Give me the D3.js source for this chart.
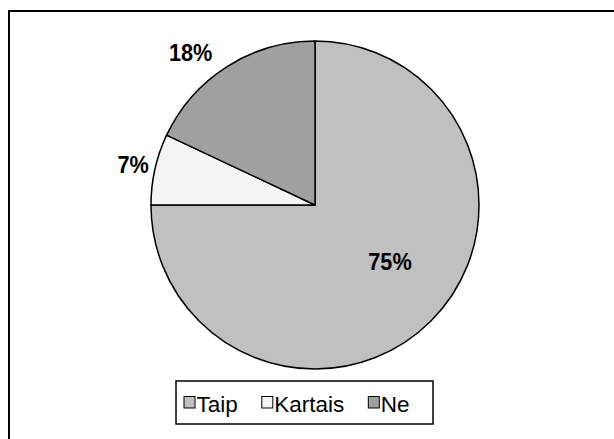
<!DOCTYPE html>
<html>
<head>
<meta charset="utf-8">
<script src="https://cdn.jsdelivr.net/npm/d3@7"></script>
<style>
  body { margin: 0; background: #fff; }
  svg { display: block; }
</style>
</head>
<body>
<svg id="chart" width="614" height="439"></svg>
<script>
// answers and their share (percent)
const categories = ["Taip", "Kartais", "Ne"];
const values = [75, 7, 18];
const colours = ["#c0c0c0", "#f4f4f4", "#a0a0a0"];

const svg = d3.select("#chart");
const cx = 315, cy = 205, r = 164;

// outer frame (runs off the bottom and right edge)
svg.append("rect")
        .attr("x", 9)
        .attr("y", 11)
        .attr("width", 700)
        .attr("height", 600)
        .attr("fill", "none")
        .attr("stroke", "#000")
        .attr("stroke-width", 2);

const pie = d3.pie().sort(null).value(d => d)(values);
const arc = d3.arc().innerRadius(0).outerRadius(r);

const g = svg.append("g").attr("transform", `translate(${cx},${cy})`);

g.selectAll("path.slice")
        .data(pie)
        .join("path")
        .attr("class", "slice")
        .attr("d", arc)
        .attr("fill", (d, i) => colours[i])
        .attr("stroke", "#000")
        .attr("stroke-width", 1.5)
        .attr("stroke-linejoin", "round");

// labels: inside for the big slice, outside for the small ones
const labelRadius = [0.5 * r, 1.13 * r, 1.13 * r];
const labelShift = [[17, -2], [-1, 0], [-25, 4]];

g.selectAll("g.lbl")
        .data(pie)
        .join("g")
        .attr("class", "lbl")
        .attr("transform", (d, i) => {
                const a = (d.startAngle + d.endAngle) / 2;
                const x = Math.sin(a) * labelRadius[i] + labelShift[i][0];
                const y = -Math.cos(a) * labelRadius[i] + labelShift[i][1];
                return `translate(${x},${y}) scale(1,1.13)`;
        })
        .append("text")
        .attr("text-anchor", "middle")
        .attr("y", "0.36em")
        .attr("font-family", "Liberation Sans, Arial, sans-serif")
        .attr("font-weight", "bold")
        .attr("font-size", "21.7px")
        .attr("fill", "#000")
        .text(d => d.data + "%");

// legend
const legend = svg.append("g");
legend.append("rect")
        .attr("x", 176)
        .attr("y", 381)
        .attr("width", 257)
        .attr("height", 43)
        .attr("fill", "#fff")
        .attr("stroke", "#000")
        .attr("stroke-width", 1.5);

let lx = 184;
categories.forEach((c, i) => {
        legend.append("rect")
                .attr("x", lx)
                .attr("y", 396.5)
                .attr("width", 11)
                .attr("height", 11.5)
                .attr("fill", colours[i])
                .attr("stroke", "#000")
                .attr("stroke-width", 1);
        const t = legend.append("text")
                .attr("x", lx + 12.5)
                .attr("y", 411.5)
                .attr("font-family", "Liberation Sans, Arial, sans-serif")
                .attr("font-size", "22.5px")
                .attr("fill", "#000")
                .text(c);
        lx += 12.5 + t.node().getComputedTextLength() + 24;
});
</script>
</body>
</html>
